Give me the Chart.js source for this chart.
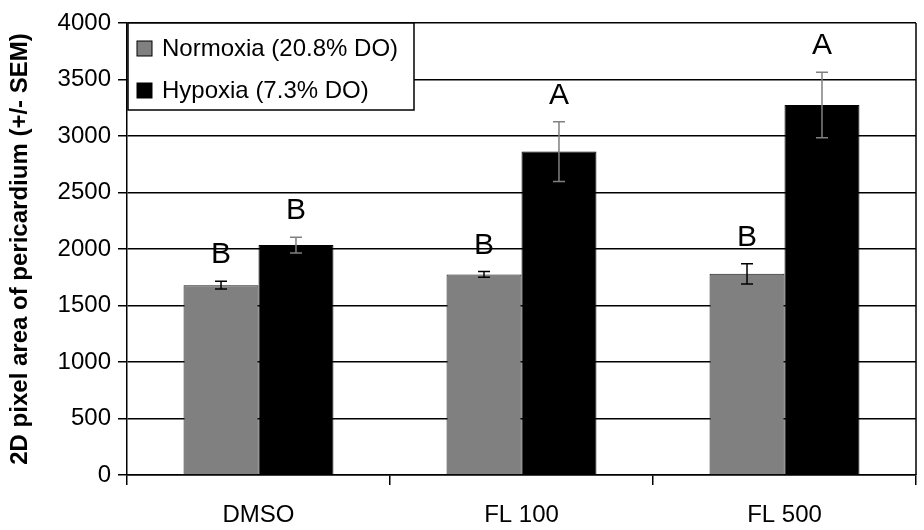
<!DOCTYPE html>
<html>
<head>
<meta charset="utf-8">
<script src="https://cdn.jsdelivr.net/npm/chart.js@4"></script>
<style>
    html, body { margin: 0; padding: 0; background: #ffffff; }
    #wrap { width: 924px; height: 530px; }
</style>
</head>
<body>
<div id="wrap"><canvas id="chart" width="924" height="530"></canvas></div>
<script>
// Chart data
const groups = ["DMSO", "FL 100", "FL 500"];

const normoxiaLabel = "Normoxia (20.8% DO)";
const normoxia = [1680, 1775, 1780];
const normoxiaSem = [35, 25, 90];
const normoxiaLetters = ["B", "B", "B"];

const hypoxiaLabel = "Hypoxia (7.3% DO)";
const hypoxia = [2035, 2862, 3275];
const hypoxiaSem = [70, 265, 290];
const hypoxiaLetters = ["B", "A", "A"];

const FONT = "'Liberation Sans', Arial, sans-serif";

// Error bars and significance letters
const errorBarPlugin = {
    id: "errorBars",
    afterDatasetsDraw(chart) {
        const ctx = chart.ctx;
        const yScale = chart.scales.y;
        const sets = [
            { sem: normoxiaSem, letters: normoxiaLetters, color: "#000000" },
            { sem: hypoxiaSem, letters: hypoxiaLetters, color: "#808080" }
        ];
        ctx.save();
        sets.forEach((s, di) => {
            const meta = chart.getDatasetMeta(di);
            const values = chart.data.datasets[di].data;
            meta.data.forEach((bar, i) => {
                const x = bar.x;
                const yTop = yScale.getPixelForValue(values[i] + s.sem[i]);
                const yBot = yScale.getPixelForValue(values[i] - s.sem[i]);
                ctx.strokeStyle = s.color;
                ctx.lineWidth = 1.5;
                ctx.beginPath();
                ctx.moveTo(x, yTop);
                ctx.lineTo(x, yBot);
                ctx.moveTo(x - 6, yTop);
                ctx.lineTo(x + 6, yTop);
                ctx.moveTo(x - 6, yBot);
                ctx.lineTo(x + 6, yBot);
                ctx.stroke();

                ctx.fillStyle = "#000000";
                ctx.font = "30px " + FONT;
                ctx.textAlign = "center";
                ctx.textBaseline = "middle";
                ctx.fillText(s.letters[i], x, yTop - 26);
            });
        });
        ctx.restore();
    }
};

// Right border and legend box inside the plot
const framePlugin = {
    id: "frame",
    afterDraw(chart) {
        const ctx = chart.ctx;
        const a = chart.chartArea;
        ctx.save();
        ctx.strokeStyle = "#000000";
        ctx.lineWidth = 1.5;
        ctx.beginPath();
        ctx.moveTo(a.right, a.top);
        ctx.lineTo(a.right, a.bottom);
        ctx.stroke();

        // legend
        const lx = a.left + 1, ly = a.top, lw = 286, lh = 87;
        ctx.fillStyle = "#ffffff";
        ctx.fillRect(lx, ly, lw, lh);
        ctx.strokeRect(lx, ly, lw, lh);
        ctx.font = "24px " + FONT;
        ctx.textAlign = "left";
        ctx.textBaseline = "middle";
        chart.data.datasets.forEach((ds, i) => {
            const cy = ly + 25 + i * 42;
            ctx.fillStyle = ds.backgroundColor;
            ctx.fillRect(lx + 9, cy - 7, 15, 15);
            ctx.lineWidth = 1;
            ctx.strokeStyle = "#000000";
            ctx.strokeRect(lx + 9, cy - 7, 15, 15);
            ctx.fillStyle = "#000000";
            ctx.fillText(ds.label, lx + 34, cy + 1);
        });
        ctx.restore();
    }
};

const ctx = document.getElementById("chart").getContext("2d");

new Chart(ctx, {
    type: "bar",
    data: {
        labels: groups,
        datasets: [
            {
                label: normoxiaLabel,
                data: normoxia,
                backgroundColor: "#808080",
                borderColor: "#1a1a1a",
                borderWidth: 1,
                categoryPercentage: 0.57,
                barPercentage: 1.0
            },
            {
                label: hypoxiaLabel,
                data: hypoxia,
                backgroundColor: "#000000",
                borderColor: "#000000",
                borderWidth: 1,
                categoryPercentage: 0.57,
                barPercentage: 1.0
            }
        ]
    },
    options: {
        responsive: false,
        animation: false,
        layout: { padding: { top: 23, right: 8, left: 0, bottom: 0 } },
        plugins: {
            legend: { display: false },
            tooltip: { enabled: false }
        },
        scales: {
            x: {
                afterFit: (scale) => { scale.height = 55; },
                grid: {
                    offset: true,
                    drawOnChartArea: false,
                    drawTicks: true,
                    tickLength: 10,
                    color: "#000000",
                    lineWidth: 1.5
                },
                border: { display: true, color: "#000000", width: 1.5 },
                ticks: {
                    color: "#000000",
                    font: { family: FONT, size: 24 },
                    padding: 16
                }
            },
            y: {
                min: 0,
                max: 4000,
                afterFit: (scale) => { scale.width = 127; },
                ticks: {
                    stepSize: 500,
                    color: "#000000",
                    font: { family: FONT, size: 24 },
                    padding: 7,
                    callback: (v) => String(v)
                },
                grid: {
                    color: "#000000",
                    lineWidth: 1.5,
                    tickLength: 9
                },
                border: { display: true, color: "#000000", width: 1.5 },
                title: {
                    display: true,
                    text: "2D pixel area of pericardium (+/- SEM)",
                    color: "#000000",
                    font: { family: FONT, size: 24, weight: "bold" },
                    padding: { top: 6, bottom: 0 }
                }
            }
        }
    },
    plugins: [errorBarPlugin, framePlugin]
});
</script>
</body>
</html>
